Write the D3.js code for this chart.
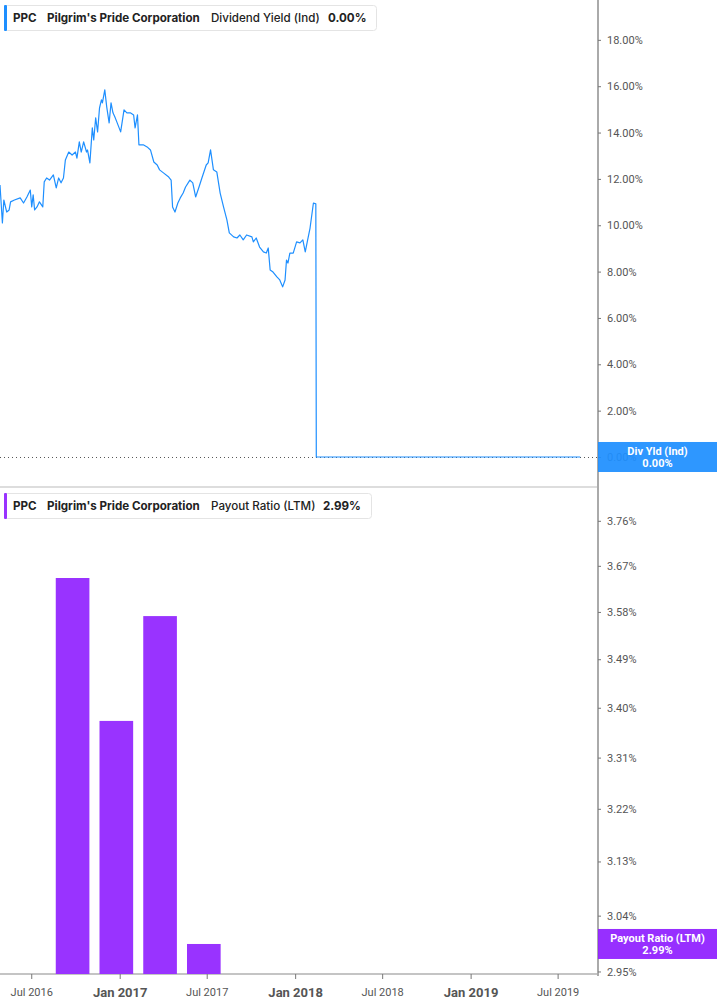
<!DOCTYPE html>
<html>
  <head>
    <meta charset="utf-8">
    <script src="https://cdn.jsdelivr.net/npm/d3@7"></script>
    <title>PPC Dividend Yield / Payout Ratio</title>
    <style>
      body {
        margin: 0px;
        background: #fff;
      }
      .legend text {
        font-family: Inter, 'Noto Sans', sans-serif;
        font-size: 11.6px;
        fill: #222;
      }
      .axis .tick text {
        font-family: Roboto, sans-serif;
        font-size: 11px;
        fill: #555;
      }
      .axis .tick line {
        stroke: #777;
      }
      .axis .domain {
        display: none;
      }
      .badge text {
        font-family: Roboto, sans-serif;
        font-size: 11px;
        font-weight: bold;
        fill: #fff;
      }
    </style>
  </head>
  <body>
    <svg width="717" height="1005"></svg>
    <script>
      // dividend yield (ind), %
      var yieldDates = [
        '2016-04-27','2016-05-02','2016-05-05','2016-05-11','2016-05-16','2016-05-19','2016-05-27',
        '2016-06-08','2016-06-15','2016-06-22','2016-06-29','2016-07-02','2016-07-05','2016-07-08',
        '2016-07-13','2016-07-18','2016-07-25','2016-07-28','2016-08-02','2016-08-08','2016-08-16',
        '2016-08-22','2016-08-27','2016-09-01','2016-09-06','2016-09-10','2016-09-17','2016-09-24',
        '2016-10-01','2016-10-04','2016-10-09','2016-10-13','2016-10-18','2016-10-24','2016-10-26',
        '2016-10-31','2016-11-05','2016-11-08','2016-11-12','2016-11-16','2016-11-20','2016-11-24',
        '2016-11-26','2016-12-01','2016-12-05','2016-12-10','2016-12-14','2016-12-18','2016-12-22',
        '2016-12-26','2017-01-03','2017-01-10','2017-01-16','2017-01-23','2017-01-30','2017-02-02',
        '2017-02-07','2017-02-10','2017-02-19','2017-02-27','2017-03-06','2017-03-13','2017-03-20',
        '2017-03-25','2017-04-02','2017-04-13','2017-04-18','2017-04-21','2017-04-26','2017-05-02',
        '2017-05-07','2017-05-13','2017-05-18','2017-05-27','2017-06-02','2017-06-08','2017-06-15',
        '2017-06-21','2017-06-30','2017-07-04','2017-07-09','2017-07-15','2017-07-22','2017-07-29',
        '2017-08-05','2017-08-12','2017-08-17','2017-08-26','2017-09-02','2017-09-08','2017-09-15',
        '2017-09-22','2017-10-03','2017-10-06','2017-10-12','2017-10-19','2017-10-27','2017-11-02',
        '2017-11-06','2017-11-10','2017-11-16','2017-11-24','2017-11-30','2017-12-06','2017-12-11',
        '2017-12-14','2017-12-17','2017-12-21','2017-12-28','2018-01-04','2018-01-11','2018-01-17',
        '2018-01-22','2018-01-27','2018-02-01','2018-02-08','2018-02-13','2018-02-14','2019-08-17'
      ];
      var yieldValues = [
        11.74, 10.10, 11.09, 10.57, 10.66, 11.01, 11.09,
        11.18, 10.96, 11.22, 11.52, 10.79, 11.31, 10.66,
        10.79, 11.01, 10.79, 11.87, 12.04, 11.95, 12.17,
        11.61, 12.04, 11.83, 12.04, 12.82, 13.16, 13.03,
        13.16, 12.90, 13.60, 13.16, 13.60, 13.16, 13.25,
        12.69, 14.20, 13.68, 14.63, 14.03, 15.06, 15.41,
        15.28, 15.84, 15.11, 14.42, 15.28, 14.85, 14.67,
        14.46, 14.03, 14.98, 14.85, 14.85, 14.76, 14.20,
        14.76, 13.47, 13.47, 13.38, 13.25, 12.73, 12.60,
        12.39, 12.26, 12.08, 11.95, 10.79, 10.57, 10.96,
        11.18, 11.39, 11.65, 11.95, 11.83, 11.22, 11.65,
        12.04, 12.60, 12.69, 13.25, 12.39, 12.30, 11.39,
        10.79, 10.23, 9.67, 9.50, 9.45, 9.58, 9.37,
        9.58, 9.50, 9.28, 9.45, 9.06, 8.85, 8.80,
        9.02, 8.07, 7.98, 7.77, 7.64, 7.34, 7.64,
        8.50, 8.37, 8.80, 8.80, 9.28, 9.24, 9.37,
        8.85, 9.37, 9.88, 10.96, 10.92, 0.00, 0.00
      ];

      // payout ratio (LTM), %, fiscal quarter ends
      var payoutDates = ['2016-09-25', '2016-12-25', '2017-03-26', '2017-06-25'];
      var payoutValues = [3.646, 3.376, 3.572, 2.994];

      var xTickDates = ['2016-07-01', '2017-01-01', '2017-07-01', '2018-01-01', '2018-07-01', '2019-01-01', '2019-07-01'];
      var xTickLabels = ['Jul 2016', 'Jan 2017', 'Jul 2017', 'Jan 2018', 'Jul 2018', 'Jan 2019', 'Jul 2019'];
      var yieldTicks = [0, 2, 4, 6, 8, 10, 12, 14, 16, 18];
      var payoutTicks = [2.95, 3.04, 3.13, 3.22, 3.31, 3.40, 3.49, 3.58, 3.67, 3.76];

      var blue = '#1e8fff';
      var purple = '#9933ff';
      var parseDate = d3.timeParse('%Y-%m-%d');

      var svg = d3.select('svg');
      var width = +svg.attr('width');
      var plotRight = 598;
      var topPanel = { top: 0, bottom: 487 };
      var botPanel = { top: 488, bottom: 974 };

      var xScale = d3.scaleTime()
        .domain([parseDate('2016-04-27'), parseDate('2019-09-23')])
        .range([0, plotRight]);

      var yTop = d3.scaleLinear()
        .domain([-1.295, 19.72])
        .range([topPanel.bottom, topPanel.top]);

      var yBot = d3.scaleLog()
        .domain([2.946, 3.827])
        .range([botPanel.bottom, botPanel.top]);

      var yieldData = yieldDates.map(function (d, i) {
        return { date: parseDate(d), value: yieldValues[i] };
      });
      var payoutData = payoutDates.map(function (d, i) {
        return { date: parseDate(d), value: payoutValues[i] };
      });

      // panel separator and frame lines
      svg.append('line')
        .attr('x1', 0).attr('x2', plotRight)
        .attr('y1', topPanel.bottom).attr('y2', topPanel.bottom)
        .attr('stroke', '#ddd').attr('stroke-width', 2);
      svg.append('line')
        .attr('x1', 0).attr('x2', plotRight)
        .attr('y1', botPanel.bottom).attr('y2', botPanel.bottom)
        .attr('stroke', '#c4c4c4').attr('stroke-width', 2);

      // current value dotted line
      svg.append('line')
        .attr('x1', 0).attr('x2', plotRight)
        .attr('y1', yTop(0) + 0.5).attr('y2', yTop(0) + 0.5)
        .attr('stroke', '#555').attr('stroke-width', 1)
        .attr('stroke-dasharray', '1,3');

      // dividend yield line
      var line = d3.line()
        .x(function (d) { return xScale(d.date); })
        .y(function (d) { return yTop(d.value); });
      svg.append('path')
        .datum(yieldData)
        .attr('fill', 'none')
        .attr('stroke', blue)
        .attr('stroke-width', 1.2)
        .attr('stroke-linejoin', 'round')
        .attr('d', line);

      // payout ratio bars
      var halfBar = 35; // days
      svg.append('g').selectAll('rect')
        .data(payoutData)
        .enter().append('rect')
          .attr('x', function (d) { return xScale(d3.timeDay.offset(d.date, -halfBar)); })
          .attr('width', function (d) {
            return xScale(d3.timeDay.offset(d.date, halfBar)) - xScale(d3.timeDay.offset(d.date, -halfBar));
          })
          .attr('y', function (d) { return yBot(d.value); })
          .attr('height', function (d) { return botPanel.bottom - yBot(d.value); })
          .attr('fill', purple);

      // right axes
      svg.append('line')
        .attr('x1', plotRight).attr('x2', plotRight)
        .attr('y1', 0).attr('y2', botPanel.bottom + 2)
        .attr('stroke', '#aaa').attr('stroke-width', 2);

      svg.append('g')
        .attr('class', 'axis')
        .attr('transform', 'translate(' + plotRight + ',0)')
        .call(d3.axisRight(yTop)
          .tickValues(yieldTicks)
          .tickSize(3)
          .tickPadding(6)
          .tickFormat(function (d) { return d.toFixed(2) + '%'; }));

      svg.append('g')
        .attr('class', 'axis')
        .attr('transform', 'translate(' + plotRight + ',0)')
        .call(d3.axisRight(yBot)
          .tickValues(payoutTicks)
          .tickSize(3)
          .tickPadding(6)
          .tickFormat(function (d) { return d.toFixed(2) + '%'; }));

      // bottom time axis
      var xAxisG = svg.append('g')
        .attr('class', 'axis')
        .attr('transform', 'translate(0,' + botPanel.bottom + ')')
        .call(d3.axisBottom(xScale)
          .tickValues(xTickDates.map(parseDate))
          .tickSize(5)
          .tickPadding(9)
          .tickFormat(function (d, i) { return xTickLabels[i]; }));
      xAxisG.selectAll('.tick text')
        .filter(function (d, i) { return xTickLabels[i].indexOf('Jan') === 0; })
        .style('font-size', '13px')
        .style('font-weight', 'bold');

      // value badges on the right
      function badge(y, color, title, value) {
        var g = svg.append('g').attr('class', 'badge');
        g.append('rect')
          .attr('x', plotRight).attr('y', y - 15)
          .attr('width', width - plotRight).attr('height', 30)
          .attr('fill', color).attr('fill-opacity', 0.93);
        g.append('text')
          .attr('x', (plotRight + width) / 2).attr('y', y - 2)
          .attr('text-anchor', 'middle')
          .text(title);
        g.append('text')
          .attr('x', (plotRight + width) / 2).attr('y', y + 10)
          .attr('text-anchor', 'middle')
          .text(value);
      }
      badge(yTop(0), blue, 'Div Yld (Ind)', '0.00%');
      badge(yBot(payoutValues[payoutValues.length - 1]), '#8f1fff', 'Payout Ratio (LTM)',
        payoutValues[payoutValues.length - 1].toFixed(2) + '%');

      // legends
      function legend(y, w, color, metric, value, valueX) {
        var g = svg.append('g').attr('class', 'legend');
        g.append('rect')
          .attr('x', 4.5).attr('y', y + 0.5)
          .attr('width', w).attr('height', 25)
          .attr('rx', 3)
          .attr('fill', '#fff')
          .attr('stroke', '#e4e4e4');
        g.append('rect')
          .attr('x', 4).attr('y', y)
          .attr('width', 3).attr('height', 26)
          .attr('rx', 1)
          .attr('fill', color);
        g.append('text').attr('x', 13).attr('y', y + 17)
          .style('font-weight', 'bold').text('PPC');
        g.append('text').attr('x', 47).attr('y', y + 17)
          .style('font-weight', 'bold').text("Pilgrim's Pride Corporation");
        g.append('text').attr('x', 211).attr('y', y + 17)
          .style('font-weight', 500).text(metric);
        g.append('text').attr('x', valueX).attr('y', y + 17)
          .style('font-weight', 'bold').text(value);
      }
      legend(5, 372, blue, 'Dividend Yield (Ind)', '0.00%', 328);
      legend(493, 367, purple, 'Payout Ratio (LTM)',
        payoutValues[payoutValues.length - 1].toFixed(2) + '%', 323);
    </script>
  </body>
</html>
